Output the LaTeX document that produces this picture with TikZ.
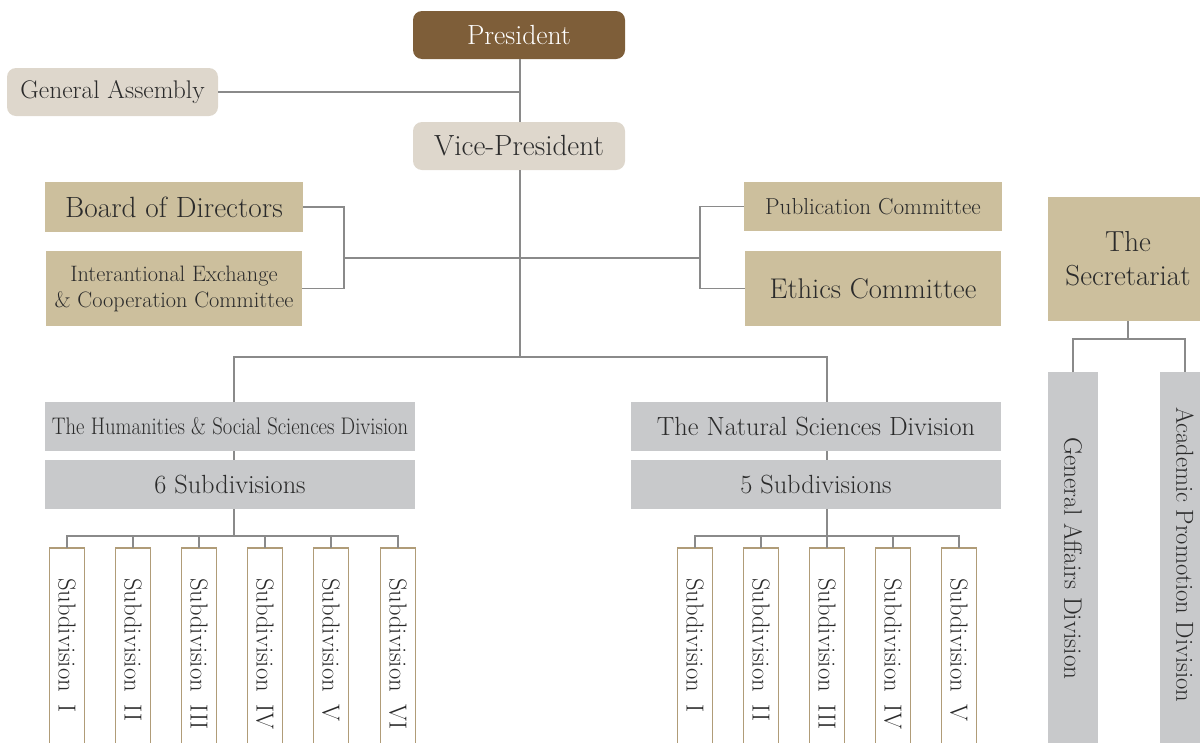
\documentclass[tikz,border=0pt]{standalone}
\usetikzlibrary{calc}
\definecolor{pbrown}{HTML}{7E5E39}
\definecolor{pbeige}{HTML}{DED7CC}
\definecolor{ptan}{HTML}{CCBF9D}
\definecolor{pgray}{HTML}{C8C9CB}
\definecolor{pborder}{HTML}{B09C78}
\definecolor{pline}{HTML}{8A8A8A}
\definecolor{ptext}{HTML}{2B2B2B}
\tikzset{
  base/.style={inner sep=0pt, outer sep=0pt, text=ptext, align=center},
  roundbox/.style={base, rounded corners=9pt, fill=pbeige},
  tanbox/.style={base, fill=ptan},
  graybox/.style={base, fill=pgray},
  subbox/.style={base, draw=pborder, line width=1.2pt, fill=white, minimum width=35pt, minimum height=230pt, anchor=north},
  vtext/.style={base, rotate=-90, anchor=west, font=\fontsize{24.6}{28}\selectfont},
  conn/.style={draw=pline, line width=1.3pt},
}
\newcommand{\gap}{\hspace{0.5em}}
\begin{document}
\begin{tikzpicture}[x=1pt,y=-1pt]
\useasboundingbox (0,0) rectangle (1200,742);
\clip (0,0) rectangle (1200,742);

% top nodes
\node[base, rounded corners=9pt, fill=pbrown, text=white, minimum width=212pt, minimum height=48pt, font=\fontsize{27.7}{32}\selectfont] (pres) at (519,35) {President};
\node[roundbox, minimum width=211pt, minimum height=48pt, font=\fontsize{25.5}{30}\selectfont] (ga) at (112.5,92) {General Assembly};
\node[roundbox, minimum width=212pt, minimum height=48pt, font=\fontsize{29.2}{33}\selectfont] (vp) at (519,146) {Vice-President};

% committees
\node[tanbox, minimum width=258pt, minimum height=50pt, font=\fontsize{29.3}{33}\selectfont] (bod) at (174,207) {Board of Directors};
\node[tanbox, minimum width=256pt, minimum height=75pt, font=\fontsize{22.3}{27}\selectfont] (iec) at (174,288.5) {Interantional Exchange\\[-1pt]\& Cooperation Committee};
\node[tanbox, minimum width=258pt, minimum height=49pt, font=\fontsize{23.1}{27}\selectfont] (pub) at (873,206.5) {Publication Committee};
\node[tanbox, minimum width=256pt, minimum height=75pt, font=\fontsize{28.5}{32}\selectfont] (eth) at (873,288.5) {Ethics Committee};

% divisions
\node[graybox, minimum width=370pt, minimum height=49pt, font=\fontsize{24}{28}\selectfont] (hum) at (230,426.5) {\scalebox{0.86}[1]{The Humanities \& Social Sciences Division}};
\node[graybox, minimum width=370pt, minimum height=49pt, font=\fontsize{26.3}{30}\selectfont] (six) at (230,484.5) {6 Subdivisions};
\node[graybox, minimum width=370pt, minimum height=49pt, font=\fontsize{26.3}{30}\selectfont] (nat) at (816,426.5) {The Natural Sciences Division};
\node[graybox, minimum width=370pt, minimum height=49pt, font=\fontsize{26.3}{30}\selectfont] (five) at (816,484.5) {5 Subdivisions};

% secretariat
\node[tanbox, minimum width=160pt, minimum height=124pt, font=\fontsize{29}{34}\selectfont] (sec) at (1128,259) {The\\Secretariat};
\node[graybox, minimum width=50pt, minimum height=400pt, anchor=north] (gad) at (1073,372) {};
\node[graybox, minimum width=50pt, minimum height=400pt, anchor=north] (apd) at (1185,372) {};
\node[vtext, font=\fontsize{25.2}{28}\selectfont] (gadt) at (1073,437) {General Affairs Division};
\node[vtext, font=\fontsize{24.6}{28}\selectfont] (apdt) at (1185,407) {Academic Promotion Division};

% humanities subdivisions
\foreach \i/\x/\r in {1/67/I,2/133/II,3/199/III,4/265/IV,5/331/V,6/398/VI}{
  \node[subbox] (h\i) at (\x,548) {};
  \node[vtext] (h\i t) at (\x,578) {Subdivision\gap\r};
}
% natural subdivisions
\foreach \i/\x/\r in {1/695/I,2/761/II,3/827/III,4/893/IV,5/959/V}{
  \node[subbox] (n\i) at (\x,548) {};
  \node[vtext] (n\i t) at (\x,578) {Subdivision\gap\r};
}

% connectors
\coordinate (top) at (520,59);
\coordinate (gaj) at (520,92);
\coordinate (vpt) at (520,122);
\coordinate (vpb) at (520,170);
\coordinate (hub) at (520,357);
\coordinate (lb) at (344,258);
\coordinate (rb) at (700,258);
\coordinate (hl) at (234,357);
\coordinate (nl) at (827,357);
\draw[conn] (top) -- (vpt);
\draw[conn] (ga.east) -- (gaj);
\draw[conn] (vpb) -- (hub);
\draw[conn] (bod.east) -| (lb) |- (iec.east);
\draw[conn] (lb) -- (rb);
\draw[conn] (pub.west) -| (rb) |- (eth.west);
\draw[conn] (hl |- hum.north) -- (hl) -- (nl) -- (nl |- nat.north);
\draw[conn] (hl |- hum.south) -- (hl |- six.north);
\draw[conn] (nl |- nat.south) -- (nl |- five.north);
\coordinate (hj) at (234,536);
\coordinate (nj) at (827,536);
\draw[conn] (hj |- six.south) -- (hj);
\draw[conn] (nj |- five.south) -- (nj);
\draw[conn] (h1.north) |- (hj) -| (h6.north);
\foreach \i in {2,3,4,5}{\draw[conn] (h\i.north) -- (h\i.north |- hj);}
\draw[conn] (n1.north) |- (nj) -| (n5.north);
\foreach \i in {2,3,4}{\draw[conn] (n\i.north) -- (n\i.north |- nj);}
\coordinate (sj) at (1128,339);
\draw[conn] (sec.south) -- (sj);
\draw[conn] (gad.north) |- (sj) -| (apd.north);
\end{tikzpicture}
\end{document}
